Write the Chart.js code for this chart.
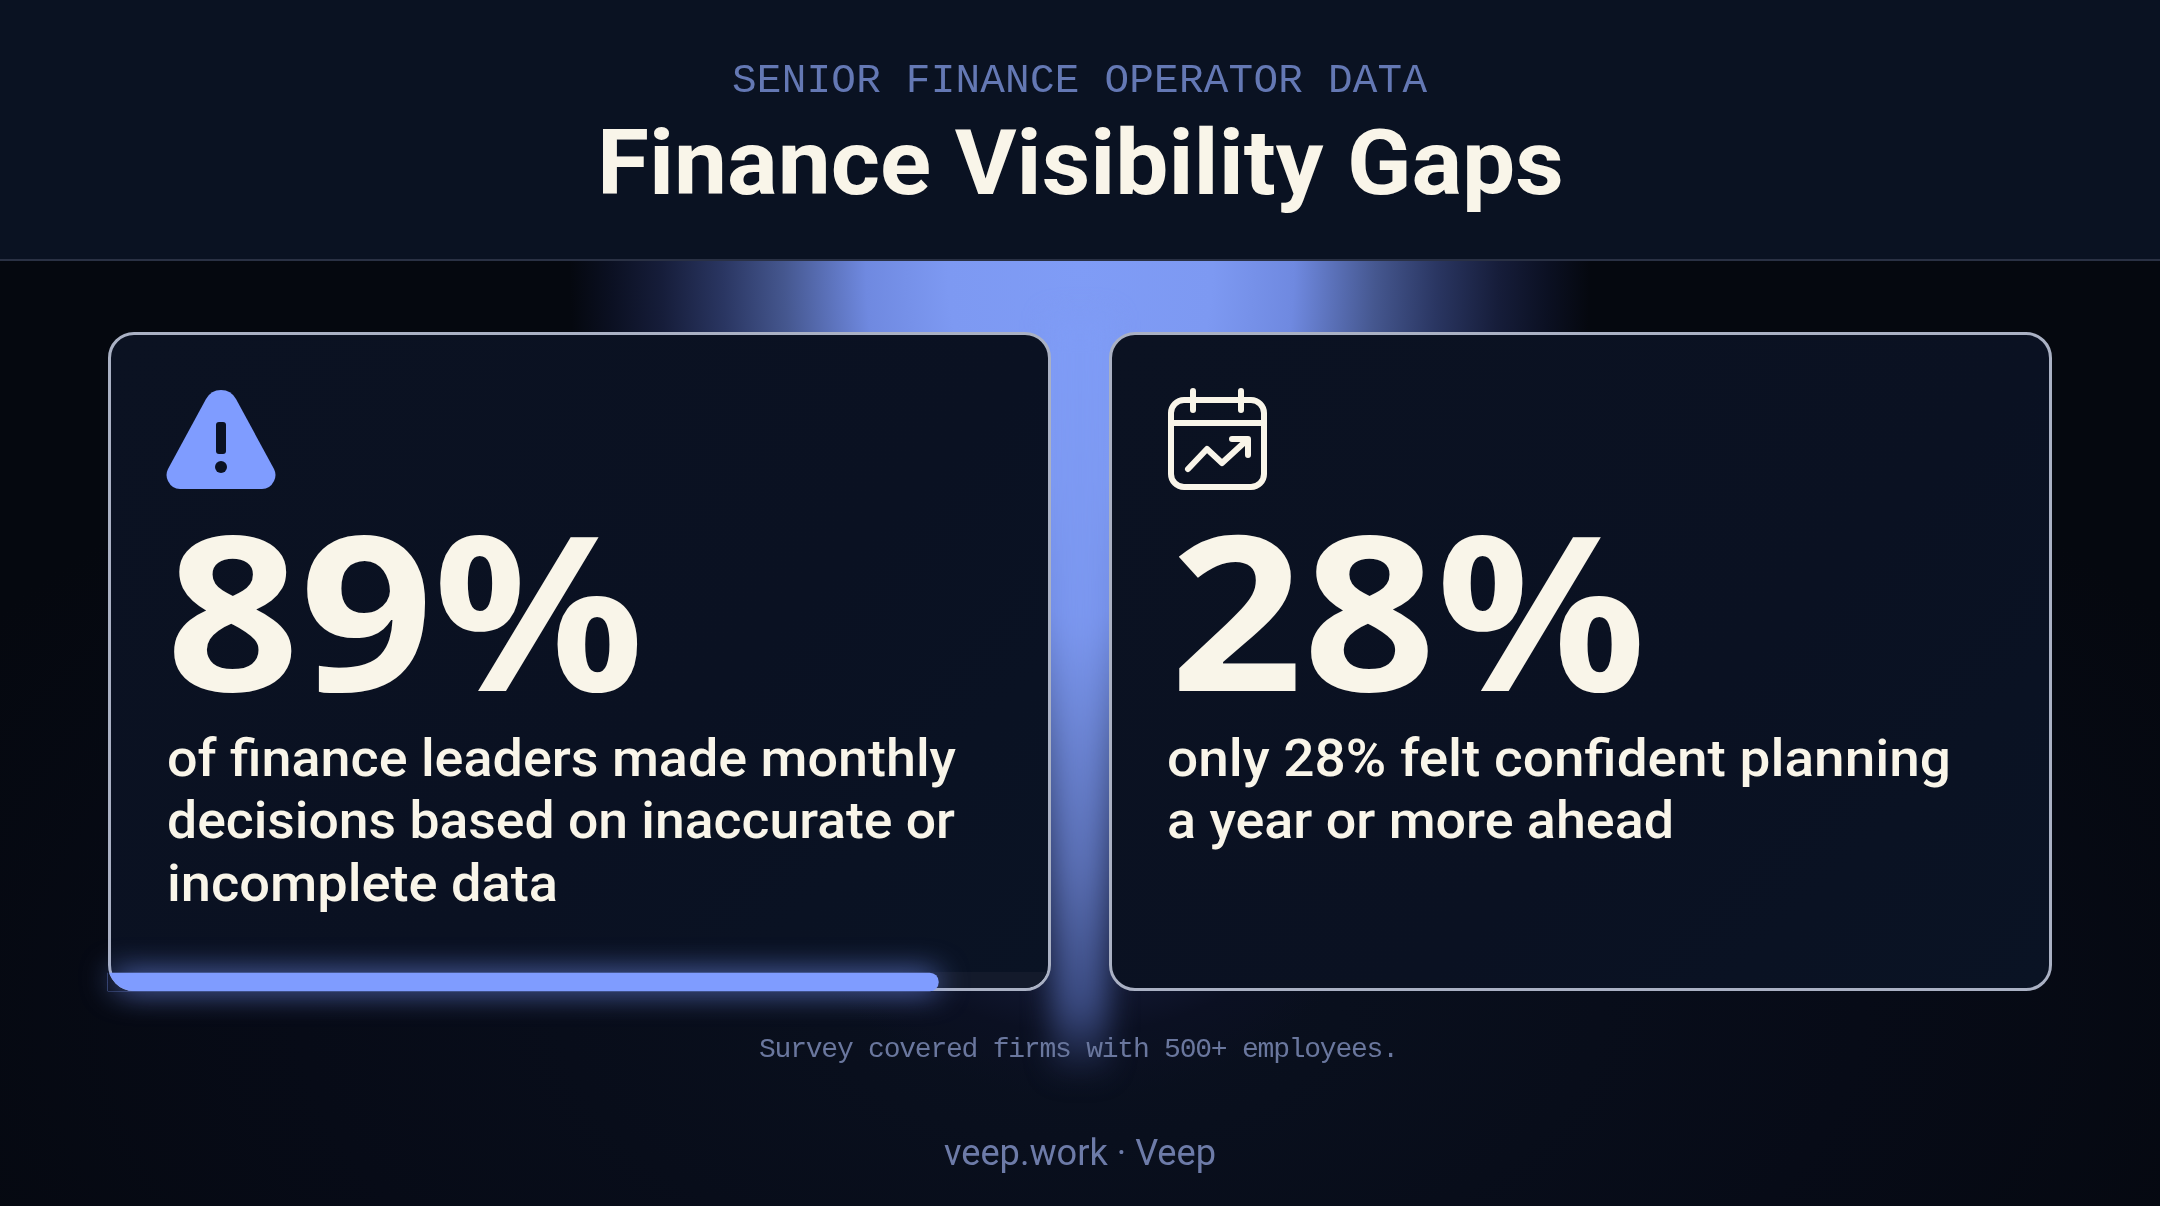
<!DOCTYPE html>
<html>
<head>
<meta charset="utf-8">
<title>Finance Visibility Gaps</title>
<script src="https://cdn.jsdelivr.net/npm/chart.js@4"></script>
<style>
  html, body { margin: 0; padding: 0; background: #060a15; }
  #slide { position: relative; width: 2160px; height: 1206px; overflow: hidden;
    background: radial-gradient(ellipse 1300px 700px at 1080px 1000px, #0a1120 0%, #070b17 60%, #05080f 100%); }
  #header { position: absolute; left: 0; top: 0; width: 2160px; height: 259px; background: #0a1222;
    border-bottom: 2px solid #2a3144; }
  #fan { position: absolute; left: 0; top: 261px; width: 2160px; height: 900px;
    background: radial-gradient(ellipse 510px 840px at 1080px 0px, #7f9cf6 0%, #7d99f2 26%, #6f89e0 42%, #45578f 58%, #2a3662 70%, #161d3a 82%, #0b1022 92%, rgba(6,10,20,0) 100%); }
  #beam { position: absolute; left: 1052px; top: 320px; width: 56px; height: 760px; filter: blur(14px);
    background: linear-gradient(180deg, #7f9cf6 0%, #7b97ef 40%, #5a6fb4 72%, #3a4a80 90%, rgba(40,50,90,0) 100%); }
  .card { position: absolute; top: 332px; width: 943px; height: 659px; box-sizing: border-box;
    border: 3px solid #aab1c4; border-radius: 26px; overflow: hidden;
    background: linear-gradient(135deg, #0b1222 0%, #0a1122 60%, #0a1324 100%); }
  #card_a { left: 108px; }
  #card_b { left: 1109px; }
  #track { position: absolute; left: 0; bottom: 0; width: 100%; height: 16px; background: #131a2b; }
  #bar_chart { position: absolute; left: 60px; top: 930px;
    filter: drop-shadow(0 0 15px rgba(120,150,255,0.8)); }
  #texts { position: absolute; left: 0; top: 0; }
  .cream { fill: #f9f5e9; }
  .mono { font-family: "Liberation Mono", monospace; }
  .sans { font-family: Roboto, sans-serif; }
  .desc { font-size: 52px; font-weight: 500; }
  .big { font-family: "Noto Sans", sans-serif; font-size: 216px; font-weight: 700; }
</style>
</head>
<body>
<div id="slide">
  <div id="fan"></div>
  <div id="beam"></div>
  <div id="header"></div>
  <div class="card" id="card_a"><div id="track"></div></div>
  <div class="card" id="card_b"></div>
  <canvas id="bar_chart" width="1040" height="110"></canvas>
  <svg id="texts" width="2160" height="1206" xmlns="http://www.w3.org/2000/svg">
    <text class="mono" x="732" y="92" font-size="41" fill="#6478b4" textLength="695" lengthAdjust="spacing">SENIOR FINANCE OPERATOR DATA</text>
    <text class="sans cream" x="597" y="194" font-size="91" font-weight="700" textLength="967" lengthAdjust="spacingAndGlyphs">Finance Visibility Gaps</text>

    <path d="M221 390 q10 0 15 9 l38 70 q3 6 0 12 q-4 8 -12 8 h-82 q-8 0 -12 -8 q-3 -6 0 -12 l38 -70 q5 -9 15 -9z" fill="#7f9cff"/>
    <rect x="216" y="422" width="10" height="32" rx="3" fill="#0a1122"/>
    <circle cx="221" cy="467" r="6" fill="#0a1122"/>

    <g fill="none" stroke="#f9f5e9" stroke-width="6" stroke-linecap="round" stroke-linejoin="round">
      <rect x="1171" y="400" width="93" height="87" rx="13"/>
      <path d="M1193 391 V410 M1241 391 V410 M1171 423 H1264"/>
      <path d="M1188 469 L1207 449 L1222 463 L1247 440 M1232 439 H1248 V455"/>
    </g>

    <text id="big_a" class="cream big" x="166" y="691" textLength="478" lengthAdjust="spacingAndGlyphs"></text>
    <text id="big_b" class="cream big" x="1170" y="691" textLength="476" lengthAdjust="spacingAndGlyphs"></text>

    <text class="sans cream desc" x="167" y="776" textLength="789" lengthAdjust="spacingAndGlyphs">of finance leaders made monthly</text>
    <text class="sans cream desc" x="167" y="838" textLength="788" lengthAdjust="spacingAndGlyphs">decisions based on inaccurate or</text>
    <text class="sans cream desc" x="167" y="901" textLength="391" lengthAdjust="spacingAndGlyphs">incomplete data</text>
    <text class="sans cream desc" x="1167" y="776" textLength="784" lengthAdjust="spacingAndGlyphs"></text>
    <text class="sans cream desc" x="1167" y="838" textLength="507" lengthAdjust="spacingAndGlyphs">a year or more ahead</text>

    <text class="mono" x="759" y="1057" font-size="28" fill="#6a779e" textLength="640" lengthAdjust="spacing">Survey covered firms with 500+ employees.</text>
    <text class="sans" x="944" y="1165" font-size="36" fill="#6d7ba8" textLength="272" lengthAdjust="spacingAndGlyphs">veep.work · Veep</text>
  </svg>
</div>

<script>
  // Values
  const categories = ["Inaccurate or incomplete data"];
  const barValues = [89];
  const statValues = [89, 28];

  document.getElementById("big_a").textContent = statValues[0] + "%";
  document.getElementById("big_b").textContent = statValues[1] + "%";
  document.querySelectorAll(".desc")[3].textContent = "only " + statValues[1] + "% felt confident planning";

  // Cut the bar's lower left end to the card's corner
  const cornerCut = {
    id: "cornerCut",
    beforeDatasetsDraw(chart) {
      const { ctx, chartArea } = chart;
      const r = 26;
      const x = chartArea.left;
      const y = chartArea.bottom;
      ctx.save();
      ctx.beginPath();
      ctx.rect(0, 0, chart.width, chart.height);
      ctx.moveTo(x, y);
      ctx.lineTo(x + r, y);
      ctx.arc(x + r, y - r, r, Math.PI / 2, Math.PI);
      ctx.closePath();
      ctx.clip("evenodd");
    },
    afterDatasetsDraw(chart) {
      chart.ctx.restore();
    },
  };

  new Chart(document.getElementById("bar_chart"), {
    type: "bar",
    data: {
      labels: categories,
      datasets: [
        {
          data: barValues,
          backgroundColor: "#7f9cff",
          borderRadius: { topLeft: 0, bottomLeft: 0, topRight: 9, bottomRight: 9 },
          borderSkipped: false,
          barPercentage: 1,
          categoryPercentage: 1,
          clip: false,
        },
      ],
    },
    options: {
      indexAxis: "y",
      responsive: false,
      animation: false,
      layout: { padding: { left: 48, right: 59, top: 43, bottom: 49 } },
      scales: {
        x: { display: false, min: 0, max: 100 },
        y: { display: false },
      },
      plugins: { legend: { display: false }, tooltip: { enabled: false } },
    },
    plugins: [cornerCut],
  });
</script>
</body>
</html>
